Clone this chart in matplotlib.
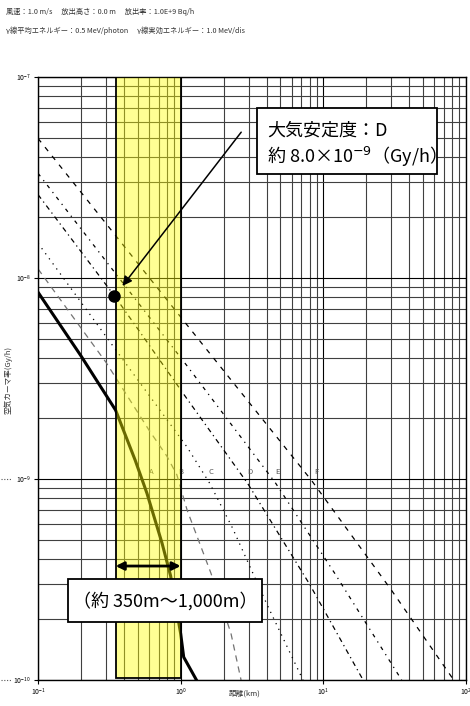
import numpy as np
import matplotlib.pyplot as plt
from matplotlib.patches import Rectangle
from matplotlib.lines import Line2D

plt.rcParams['font.family'] = ['Noto Sans CJK JP', 'DejaVu Sans']
plt.rcParams['mathtext.fontset'] = 'dejavusans'

# distance (km) vs air kerma rate (Gy/h) for each stability class
dist_a = [0.1, 0.2, 0.35, 0.48, 0.58, 0.74, 0.85, 1.0, 1.05, 1.29]
rate_a = [8.5e-9, 4.1e-9, 2.2e-9, 1.24e-9, 8.5e-10, 4.8e-10, 3.3e-10, 1.7e-10, 1.3e-10, 1.0e-10]
dist_b = [0.1, 0.3, 0.6, 0.8, 0.94, 1.11, 1.63, 2.25, 2.65]
rate_b = [1.11e-8, 3.8e-9, 1.75e-9, 1.3e-9, 1.05e-9, 7.0e-10, 3.4e-10, 1.71e-10, 1.0e-10]
dist_c = [0.1, 0.35, 1.11, 1.6, 2.31, 4.0, 7.2]
rate_c = [1.49e-8, 4.4e-9, 1.44e-9, 9.5e-10, 5.7e-10, 2.4e-10, 1.0e-10]
dist_d = [0.1, 0.35, 1.11, 2.95, 8.0, 19.0]
rate_d = [2.6e-8, 8.0e-9, 2.5e-9, 9.5e-10, 3.0e-10, 1.0e-10]
dist_e = [0.1, 1.11, 4.6, 12.0, 35.4]
rate_e = [3.32e-8, 3.65e-9, 9.6e-10, 3.4e-10, 1.0e-10]
dist_f = [0.1, 1.11, 8.3, 30.0, 82.0]
rate_f = [4.95e-8, 5.83e-9, 9.8e-10, 2.8e-10, 1.0e-10]

class_names = ['A', 'B', 'C', 'D', 'E', 'F']
label_x = [0.6, 0.96, 1.57, 2.95, 4.6, 8.6]
label_y = 1.03e-9

band = (0.35, 1.0)          # km range highlighted
point_d = (0.34, 8.17e-9)   # class D at about 350 m

fig = plt.figure(figsize=(4.7, 7.06), dpi=100)
W, H = 470, 706
ax = fig.add_axes([38 / W, 1 - 680 / H, (466 - 38) / W, (680 - 77) / H])

ax.set_xscale('log')
ax.set_yscale('log')
ax.set_xlim(0.1, 100)
ax.set_ylim(1e-10, 1e-7)

ax.grid(True, which='major', color='black', lw=0.8, zorder=0.5)
ax.grid(True, which='minor', color='0.25', lw=0.8, zorder=0.5)
ax.set_axisbelow(True)

ax.plot(dist_a, rate_a, color='black', lw=2.2, zorder=2)
ax.plot(dist_b, rate_b, color='0.45', lw=0.9, ls=(0, (5, 4)), zorder=2)
ax.plot(dist_c, rate_c, color='black', lw=0.9, ls=(0, (1, 4)), zorder=2)
ax.plot(dist_d, rate_d, color='black', lw=0.9, ls=(0, (4, 3, 1, 3)), zorder=2)
ax.plot(dist_e, rate_e, color='black', lw=0.9, ls=(0, (3, 4, 1, 4)), zorder=2)
ax.plot(dist_f, rate_f, color='black', lw=0.9, ls=(0, (4, 5)), zorder=2)

for name, lx in zip(class_names, label_x):
    ax.text(lx, label_y, name, fontsize=5.5, color='#555555', ha='left', va='bottom', zorder=2)

# highlighted band
ax.add_patch(Rectangle((band[0], 1.023e-10), band[1] - band[0], 1e-7 - 1.023e-10,
                       facecolor='#ffff00', alpha=0.42, edgecolor='none', zorder=3))
ax.add_patch(Rectangle((band[0], 1.023e-10), band[1] - band[0], 1e-7 - 1.023e-10,
                       facecolor='none', edgecolor='black', lw=1.3, zorder=4))

ax.plot(*point_d, 'o', color='black', ms=8, zorder=5)
ax.annotate('', xy=(0.38, 8.9e-9), xytext=(2.73, 5.45e-8),
            arrowprops=dict(arrowstyle='-|>', color='black', lw=1.1, mutation_scale=14), zorder=5)
ax.annotate('', xy=(band[0], 3.69e-10), xytext=(band[1], 3.69e-10),
            arrowprops=dict(arrowstyle='<|-|>', color='black', lw=2, mutation_scale=12,
                            shrinkA=0, shrinkB=0), zorder=5)

ax.tick_params(which='major', labelsize=5, length=3, width=0.8, pad=2)
ax.tick_params(which='minor', length=0)
for s in ax.spines.values():
    s.set_linewidth(1.0)

# header text
fig.text(6 / W, 1 - 12 / H, '風速：1.0 m/s　 放出高さ：0.0 m　 放出率：1.0E+9 Bq/h',
         fontsize=5.2, color='#333333', va='center')
fig.text(6 / W, 1 - 31 / H, 'γ線平均エネルギー：0.5 MeV/photon　 γ線実効エネルギー：1.0 MeV/dis',
         fontsize=5.2, color='#333333', va='center')
fig.text(8 / W, 1 - 380 / H, '空気カーマ率(Gy/h)', fontsize=5.5, rotation=90,
         ha='center', va='center', color='#333333')
fig.text(245 / W, 1 - 694 / H, '距離(km)', fontsize=5.5, ha='center', va='center', color='#333333')
for yy in (479, 680):
    fig.add_artist(Line2D([1 / W, 12 / W], [1 - yy / H, 1 - yy / H], transform=fig.transFigure,
                          color='#555555', lw=0.8, ls=(0, (1, 1.5))))

# annotation boxes
fig.patches.append(Rectangle((257 / W, 1 - 174 / H), 180 / W, 66 / H, transform=fig.transFigure,
                             facecolor='white', edgecolor='black', lw=1.3, zorder=6))
fig.text(267 / W, 1 - 131 / H, '大気安定度：D', fontsize=13, va='center', zorder=7)
fig.text(267 / W, 1 - 157 / H, '約 8.0×10$^{-9}$（Gy/h）', fontsize=13, va='center', zorder=7)

fig.patches.append(Rectangle((68 / W, 1 - 622 / H), 194 / W, 43 / H, transform=fig.transFigure,
                             facecolor='white', edgecolor='black', lw=1.3, zorder=6))
fig.text(165 / W, 1 - 601 / H, '（約 350m〜1,000m）', fontsize=13, ha='center', va='center', zorder=7)

fig.savefig('out.png', dpi=100)
